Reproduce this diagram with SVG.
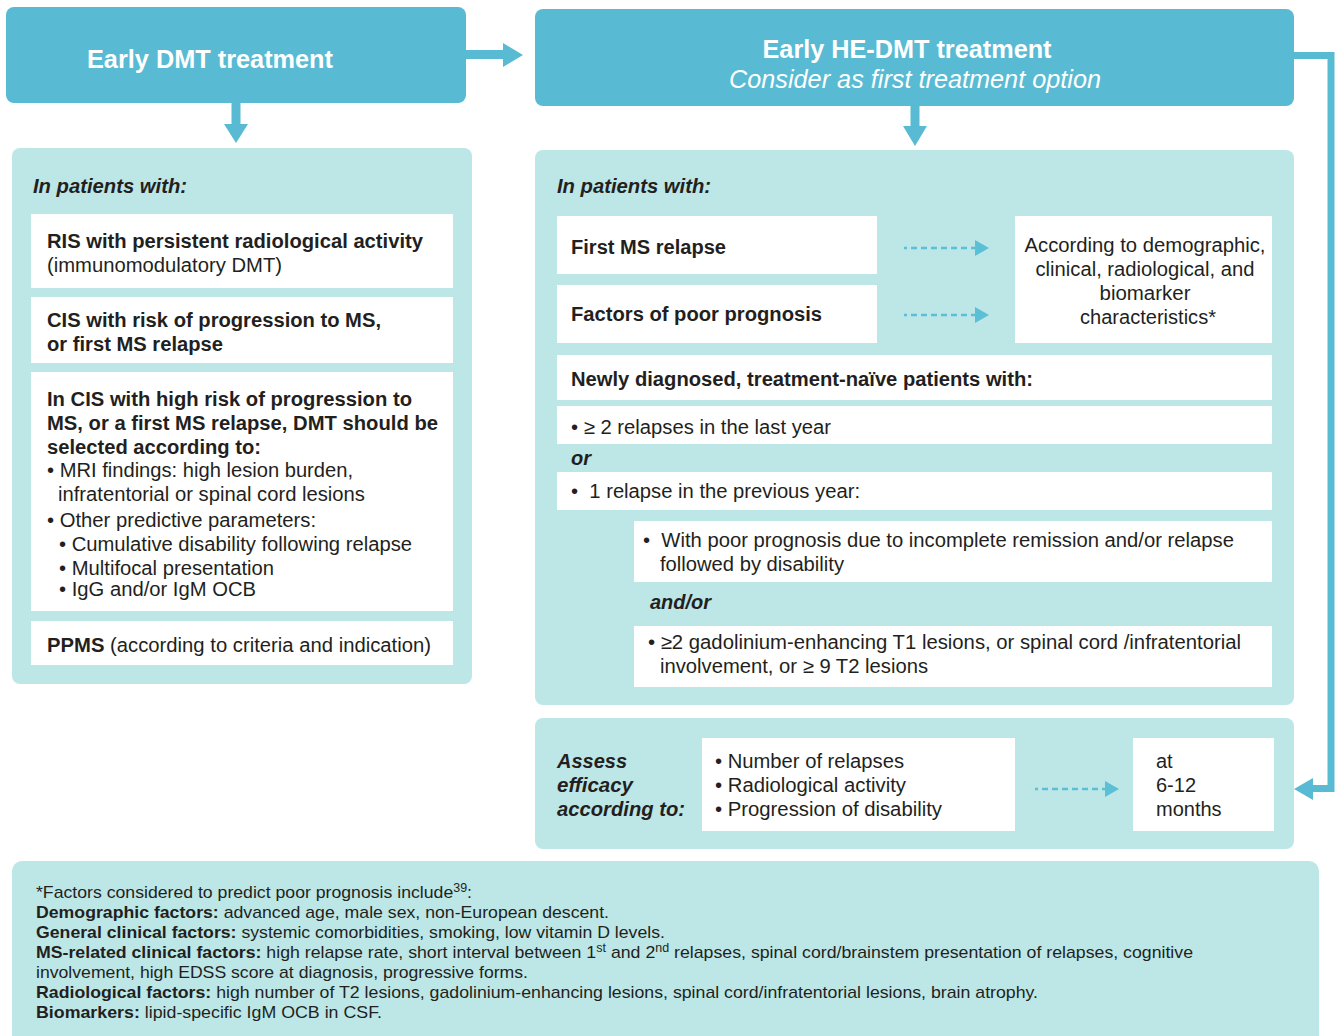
<svg xmlns="http://www.w3.org/2000/svg" width="1339" height="1036" viewBox="0 0 1339 1036">
<style>
text{font-family:"Liberation Sans",Arial,sans-serif;fill:#231f20;font-size:20px}
.b{font-weight:bold}
.bi{font-weight:bold;font-style:italic}
.hd{fill:#ffffff;font-size:25px;font-weight:bold}
.hi{fill:#ffffff;font-size:25px;font-style:italic}
.fn{font-size:17px}
.dark{fill:#58bbd3}
.light{fill:#bde6e7}
.white{fill:#ffffff}
.dash{stroke:#5bbfd6;stroke-width:2.6;fill:none;stroke-dasharray:6 4;stroke-dashoffset:3}
.dh{fill:#5bbfd6}
</style>
<rect x="0" y="0" width="1339" height="1036" fill="#ffffff"/>

<g id="header-left">
  <rect class="dark" x="6" y="7" width="460" height="96" rx="8"/>
  <text class="hd" x="210" y="68" text-anchor="middle" textLength="246" lengthAdjust="spacingAndGlyphs">Early DMT treatment</text>
</g>

<g id="header-right">
  <rect class="dark" x="535" y="9" width="759" height="97" rx="8"/>
  <text class="hd" x="907" y="58" text-anchor="middle" textLength="289" lengthAdjust="spacingAndGlyphs">Early HE-DMT treatment</text>
  <text class="hi" x="915" y="88" text-anchor="middle" textLength="372" lengthAdjust="spacingAndGlyphs">Consider as first treatment option</text>
</g>

<g id="panel-left">
  <rect class="light" x="12" y="148" width="460" height="536" rx="8"/>
  <text class="bi" x="33" y="193" textLength="154" lengthAdjust="spacingAndGlyphs">In patients with:</text>
</g>

<g id="ris">
  <rect class="white" x="31" y="214" width="422" height="74"/>
  <text class="b" x="47" y="248" textLength="376" lengthAdjust="spacingAndGlyphs">RIS with persistent radiological activity</text>
  <text x="47" y="272" textLength="235" lengthAdjust="spacingAndGlyphs">(immunomodulatory DMT)</text>
</g>

<g id="cis">
  <rect class="white" x="31" y="297" width="422" height="66"/>
  <text class="b" x="47" y="327" textLength="334" lengthAdjust="spacingAndGlyphs">CIS with risk of progression to MS,</text>
  <text class="b" x="47" y="351" textLength="176" lengthAdjust="spacingAndGlyphs">or first MS relapse</text>
</g>

<g id="cis-high">
  <rect class="white" x="31" y="372" width="422" height="239"/>
  <text class="b" x="47" y="406" textLength="365" lengthAdjust="spacingAndGlyphs">In CIS with high risk of progression to</text>
  <text class="b" x="47" y="430" textLength="391" lengthAdjust="spacingAndGlyphs">MS, or a first MS relapse, DMT should be</text>
  <text class="b" x="47" y="454" textLength="214" lengthAdjust="spacingAndGlyphs">selected according to:</text>
  <text x="47" y="477" textLength="306" lengthAdjust="spacingAndGlyphs">• MRI findings: high lesion burden,</text>
  <text x="58" y="501" textLength="307" lengthAdjust="spacingAndGlyphs">infratentorial or spinal cord lesions</text>
  <text x="47" y="527" textLength="269" lengthAdjust="spacingAndGlyphs">• Other predictive parameters:</text>
  <text x="59" y="551" textLength="353" lengthAdjust="spacingAndGlyphs">• Cumulative disability following relapse</text>
  <text x="59" y="575" textLength="215" lengthAdjust="spacingAndGlyphs">• Multifocal presentation</text>
  <text x="59" y="596" textLength="197" lengthAdjust="spacingAndGlyphs">• IgG and/or IgM OCB</text>
</g>

<g id="ppms">
  <rect class="white" x="31" y="621" width="422" height="44"/>
  <text x="47" y="652" textLength="384" lengthAdjust="spacingAndGlyphs"><tspan class="b">PPMS</tspan> (according to criteria and indication)</text>
</g>

<g id="panel-right">
  <rect class="light" x="535" y="150" width="759" height="555" rx="8"/>
  <text class="bi" x="557" y="193" textLength="154" lengthAdjust="spacingAndGlyphs">In patients with:</text>
</g>

<g id="first-relapse">
  <rect class="white" x="557" y="216" width="320" height="58"/>
  <text class="b" x="571" y="254" textLength="155" lengthAdjust="spacingAndGlyphs">First MS relapse</text>
</g>

<g id="poor-prognosis">
  <rect class="white" x="557" y="285" width="320" height="58"/>
  <text class="b" x="571" y="321" textLength="251" lengthAdjust="spacingAndGlyphs">Factors of poor prognosis</text>
</g>

<g id="according">
  <rect class="white" x="1015" y="216" width="257" height="127"/>
  <text x="1145" y="252" text-anchor="middle" textLength="241" lengthAdjust="spacingAndGlyphs">According to demographic,</text>
  <text x="1145" y="276" text-anchor="middle" textLength="219" lengthAdjust="spacingAndGlyphs">clinical, radiological, and</text>
  <text x="1145" y="300" text-anchor="middle" textLength="91" lengthAdjust="spacingAndGlyphs">biomarker</text>
  <text x="1148" y="324" text-anchor="middle" textLength="136" lengthAdjust="spacingAndGlyphs">characteristics*</text>
</g>

<g id="newly">
  <rect class="white" x="557" y="355" width="715" height="45"/>
  <text class="b" x="571" y="386" textLength="462" lengthAdjust="spacingAndGlyphs">Newly diagnosed, treatment-naïve patients with:</text>
</g>

<g id="two-relapses">
  <rect class="white" x="557" y="406" width="715" height="38"/>
  <text x="571" y="434" textLength="260" lengthAdjust="spacingAndGlyphs">• ≥ 2 relapses in the last year</text>
</g>

<text id="or" class="bi" x="571" y="465" textLength="20" lengthAdjust="spacingAndGlyphs">or</text>

<g id="one-relapse">
  <rect class="white" x="557" y="472" width="715" height="38"/>
  <text x="571" y="498" textLength="289" lengthAdjust="spacingAndGlyphs">•&#160; 1 relapse in the previous year:</text>
</g>

<g id="with-poor">
  <rect class="white" x="634" y="521" width="638" height="61"/>
  <text x="643" y="547" textLength="591" lengthAdjust="spacingAndGlyphs">•&#160; With poor prognosis due to incomplete remission and/or relapse</text>
  <text x="660" y="571" textLength="184" lengthAdjust="spacingAndGlyphs">followed by disability</text>
</g>

<text id="andor" class="bi" x="650" y="609" textLength="61" lengthAdjust="spacingAndGlyphs">and/or</text>

<g id="gadolinium">
  <rect class="white" x="634" y="626" width="638" height="61"/>
  <text x="648" y="649" textLength="593" lengthAdjust="spacingAndGlyphs">• ≥2 gadolinium-enhancing T1 lesions, or spinal cord /infratentorial</text>
  <text x="660" y="673" textLength="268" lengthAdjust="spacingAndGlyphs">involvement, or ≥ 9 T2 lesions</text>
</g>

<g id="assess-panel">
  <rect class="light" x="535" y="718" width="759" height="131" rx="8"/>
  <text class="bi" x="557" y="768" textLength="70" lengthAdjust="spacingAndGlyphs">Assess</text>
  <text class="bi" x="557" y="792" textLength="76" lengthAdjust="spacingAndGlyphs">efficacy</text>
  <text class="bi" x="557" y="816" textLength="128" lengthAdjust="spacingAndGlyphs">according to:</text>
</g>

<g id="efficacy-criteria">
  <rect class="white" x="702" y="738" width="313" height="93"/>
  <text x="715" y="768" textLength="189" lengthAdjust="spacingAndGlyphs">• Number of relapses</text>
  <text x="715" y="792" textLength="191" lengthAdjust="spacingAndGlyphs">• Radiological activity</text>
  <text x="715" y="816" textLength="227" lengthAdjust="spacingAndGlyphs">• Progression of disability</text>
</g>

<g id="timing">
  <rect class="white" x="1133" y="738" width="141" height="93"/>
  <text x="1156" y="768">at</text>
  <text x="1156" y="792">6-12</text>
  <text x="1156" y="816">months</text>
</g>

<g id="footnote">
  <rect class="light" x="12" y="861" width="1307" height="195" rx="10"/>
  <text class="fn" x="36" y="898" textLength="436" lengthAdjust="spacingAndGlyphs">*Factors considered to predict poor prognosis include<tspan dy="-6" font-size="12">39</tspan><tspan dy="6">:</tspan></text>
  <text class="fn" x="36" y="918" textLength="573" lengthAdjust="spacingAndGlyphs"><tspan class="b">Demographic factors:</tspan> advanced age, male sex, non-European descent.</text>
  <text class="fn" x="36" y="938" textLength="629" lengthAdjust="spacingAndGlyphs"><tspan class="b">General clinical factors:</tspan> systemic comorbidities, smoking, low vitamin D levels.</text>
  <text class="fn" x="36" y="958" textLength="1157" lengthAdjust="spacingAndGlyphs"><tspan class="b">MS-related clinical factors:</tspan> high relapse rate, short interval between 1<tspan dy="-6" font-size="12">st</tspan><tspan dy="6"> and 2</tspan><tspan dy="-6" font-size="12">nd</tspan><tspan dy="6"> relapses, spinal cord/brainstem presentation of relapses, cognitive</tspan></text>
  <text class="fn" x="36" y="978" textLength="492" lengthAdjust="spacingAndGlyphs">involvement, high EDSS score at diagnosis, progressive forms.</text>
  <text class="fn" x="36" y="998" textLength="1002" lengthAdjust="spacingAndGlyphs"><tspan class="b">Radiological factors:</tspan> high number of T2 lesions, gadolinium-enhancing lesions, spinal cord/infratentorial lesions, brain atrophy.</text>
  <text class="fn" x="36" y="1018" textLength="346" lengthAdjust="spacingAndGlyphs"><tspan class="b">Biomarkers:</tspan> lipid-specific IgM OCB in CSF.</text>
</g>

<g id="connectors" fill="#58bbd3">
  <rect x="465" y="50" width="40" height="9"/>
  <polygon points="503,43 523,55 503,67"/>
  <rect x="231.5" y="103" width="9" height="23"/>
  <polygon points="224,124 248,124 236,143"/>
  <rect x="910.5" y="105" width="9" height="23"/>
  <polygon points="903,126 927,126 915,146"/>
  <path d="M1294,55.5 H1331 V788.5 H1310" fill="none" stroke="#58bbd3" stroke-width="7"/>
  <polygon points="1313,778 1313,800 1294,789"/>
  <line class="dash" x1="904" y1="248" x2="976" y2="248"/>
  <polygon class="dh" points="975,240 989,248 975,256"/>
  <line class="dash" x1="904" y1="315" x2="976" y2="315"/>
  <polygon class="dh" points="975,307 989,315 975,323"/>
  <line class="dash" x1="1035" y1="789" x2="1106" y2="789"/>
  <polygon class="dh" points="1105,781 1119,789 1105,797"/>
</g>
</svg>
